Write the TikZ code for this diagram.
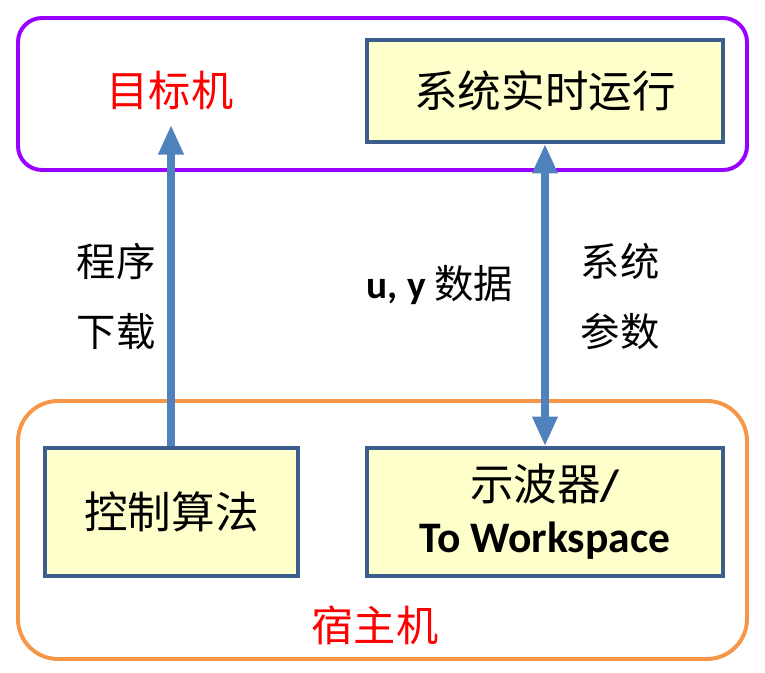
\documentclass[tikz,border=0pt]{standalone}
\usepackage{fontspec}
\setmainfont{Carlito}
\newfontfamily\cjk{Noto Sans CJK SC}
\usetikzlibrary{arrows.meta,positioning,calc}
\definecolor{boxfill}{HTML}{FFFFCC}
\definecolor{boxline}{HTML}{3B5E8C}
\definecolor{arrowblue}{HTML}{4F81BD}
\definecolor{tgtpurple}{HTML}{9900FF}
\definecolor{hostorange}{HTML}{F79646}

\begin{document}
\begin{tikzpicture}[
  block/.style={draw=boxline, line width=2.8pt, fill=boxfill, minimum height=2.55cm, inner sep=0pt, align=center, font=\fontsize{31}{37}\selectfont},
  group/.style={rounded corners=#1, line width=2.8pt},
  title/.style={text=red, font=\fontsize{30}{36}\selectfont\cjk},
  lab/.style={font=\fontsize{28}{50}\selectfont\cjk},
  link/.style={arrowblue, line width=5pt, -{Triangle[width=17pt,length=21pt]}},
  link2/.style={arrowblue, line width=5pt, {Triangle[width=17pt,length=21pt]}-{Triangle[width=17pt,length=21pt]}}]
  \useasboundingbox (0,0) rectangle (19.125,16.825);
  % target machine
  \draw[group=0.6cm, tgtpurple] (0.45,12.575) rectangle (18.675,16.375);
  \node[title] (tgt) at (4.25,14.575) {目标机};
  \node[block, minimum width=8.9cm] (run) at (13.625,14.55) {\cjk 系统实时运行};
  % host machine
  \draw[group=1cm, hostorange] (0.45,0.35) rectangle (18.675,6.8);
  \node[block, minimum width=6.325cm, minimum height=3.2cm] (ctrl) at (4.2875,4.025) {\cjk 控制算法};
  \node[block, minimum width=8.9cm, minimum height=3.2cm] (scope) at (13.625,4.025) {{\cjk 示波器}\textbf{/}\\\textbf{To Workspace}};
  \node[title] (host) at (9.375,1.2) {宿主机};
  % links
  \coordinate (tip) at (4.275,13.7);
  \draw[link] (ctrl.north -| tip) -- (tip);
  \draw[link2] (run.south) -- (scope.north);
  \node[lab, align=center] (dl) at (2.9,9.42) {程序\\下载};
  \node[lab, align=center] (par) at (15.5,9.42) {系统\\参数};
  \node[lab] (data) at (11.0,9.7) {\textbf{\rmfamily u, y} 数据};
\end{tikzpicture}
\end{document}
